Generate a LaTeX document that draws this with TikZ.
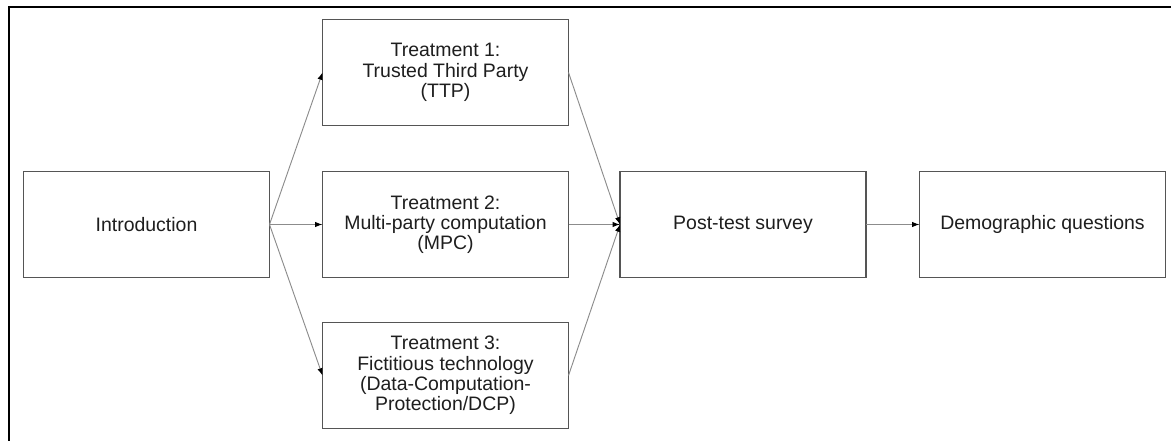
\documentclass[tikz,border=0pt]{standalone}
\usepackage{fontspec}
\setmainfont{Liberation Sans}
\usetikzlibrary{arrows.meta}
\definecolor{boxline}{HTML}{555555}
\definecolor{flowline}{HTML}{8C8C8C}
\definecolor{labeltext}{HTML}{1E1E1E}
\tikzset{
  stage/.style={draw=boxline, line width=1.1pt, fill=white, rectangle,
    minimum width=184.5pt, minimum height=79.5pt, inner sep=0pt, outer sep=0pt,
    align=center, text=labeltext, font=\fontsize{14.6}{15.2}\selectfont},
  flow/.style={draw=flowline, line width=0.7pt,
    -{Latex[length=5.5pt,width=4pt,color=black]}}
}
\begin{document}
\begin{tikzpicture}[x=0.75pt,y=-0.75pt]
  \useasboundingbox (0,0) rectangle (1176,441);
  % outer frame (left and top edges)
  \draw[line width=1.5pt, black] (8.5,441) -- (8.5,7) -- (1171,7);

  \node[stage] (intro) at (146.5,224.5) {Introduction};
  \node[stage] (ttp) at (445.5,72.5) {Treatment 1:\\Trusted Third Party\\(TTP)};
  \node[stage] (mpc) at (445.5,224.5) {Treatment 2:\\Multi-party computation\\(MPC)};
  \node[stage] (dcp) at (445.5,375.5) {Treatment 3:\\Fictitious technology\\(Data-Computation-\\Protection/DCP)};
  \node[stage] (post) at (743,224.5) {Post-test survey};
  \node[stage] (demo) at (1042.5,224.5) {Demographic questions};

  \draw[flow] (intro.east) -- (ttp.west);
  \draw[flow] (intro.east) -- (mpc.west);
  \draw[flow] (intro.east) -- (dcp.west);
  \draw[flow] (ttp.east) -- (post.west);
  \draw[flow] (mpc.east) -- (post.west);
  \draw[flow] (dcp.east) -- (post.west);
  \draw[flow] (post.east) -- (demo.west);
\end{tikzpicture}
\end{document}
